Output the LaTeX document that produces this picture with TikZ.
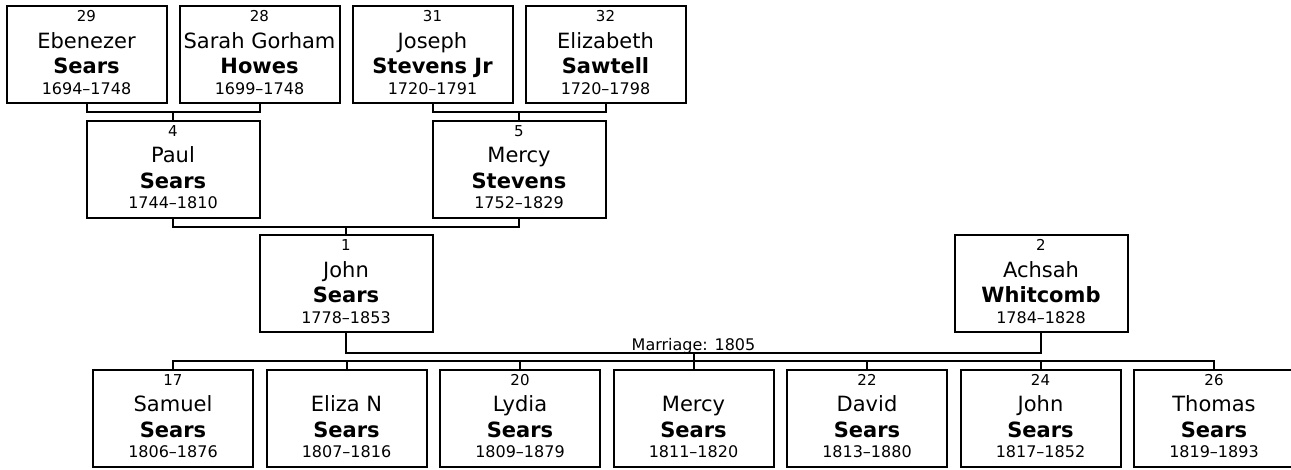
\documentclass[tikz,border=0pt]{standalone}
\usepackage{fontspec}
\setmainfont{DejaVu Sans}
\newcommand{\tline}[1]{\hbox to 0pt{\hss\smash{#1}\hss}}
\newcommand{\pinfo}[4]{\vbox to 97pt{\offinterlineskip
  \kern15.5pt\tline{\fontsize{15}{15}\selectfont #1}%
  \kern26.5pt\tline{\fontsize{21}{21}\selectfont #2}%
  \kern25.5pt\tline{\fontsize{21}{21}\selectfont\bfseries #3}%
  \kern20.5pt\tline{\fontsize{16}{16}\selectfont #4}\vss}}
\begin{document}
\begin{tikzpicture}[x=1pt,y=-1pt,
    pbox/.style={draw, line width=2pt, inner sep=0pt, outer sep=0pt,
      minimum width=160pt, minimum height=97pt},
    pwide/.style={pbox, minimum width=173pt},
    link/.style={line width=2pt}]
    \useasboundingbox (0,0) rectangle (1291,469);
    \def\x{173.5}
    % grandparents
    \node [pbox] (A0_0) at (86.5, 54.5) {\pinfo{29}{Ebenezer}{Sears}{1694--1748}};
    \node [pbox] (A0_1) at (259.5, 54.5) {\pinfo{28}{Sarah Gorham}{Howes}{1699--1748}};
    \node [pbox] (A0_2) at (432.5, 54.5) {\pinfo{31}{Joseph}{Stevens Jr}{1720--1791}};
    \node [pbox] (A0_3) at (605.5, 54.5) {\pinfo{32}{Elizabeth}{Sawtell}{1720--1798}};
    % parents
    \node [pwide] (A1_0) at (173, 169) {\pinfo{4}{Paul}{Sears}{1744--1810}};
    \node [pwide] (A1_1) at (519, 169) {\pinfo{5}{Mercy}{Stevens}{1752--1829}};
    % couple
    \node [pwide] (A2_0) at (346, 283.5) {\pinfo{1}{John}{Sears}{1778--1853}};
    \node [pwide] (A2_1) at (1041, 283.5) {\pinfo{2}{Achsah}{Whitcomb}{1784--1828}};
    % children
    \node [pbox] (A3_0) at (173+0*\x, 418) {\pinfo{17}{Samuel}{Sears}{1806--1876}};
    \node [pbox] (A3_1) at (173+1*\x, 418) {\pinfo{}{Eliza N}{Sears}{1807--1816}};
    \node [pbox] (A3_2) at (173+2*\x, 418) {\pinfo{20}{Lydia}{Sears}{1809--1879}};
    \node [pbox] (A3_3) at (173+3*\x, 418) {\pinfo{}{Mercy}{Sears}{1811--1820}};
    \node [pbox] (A3_4) at (173+4*\x, 418) {\pinfo{22}{David}{Sears}{1813--1880}};
    \node [pbox] (A3_5) at (173+5*\x, 418) {\pinfo{24}{John}{Sears}{1817--1852}};
    \node [pbox] (A3_6) at (173+6*\x, 418) {\pinfo{26}{Thomas}{Sears}{1819--1893}};
    % brackets
    \coordinate (J0) at ([yshift=8.5pt]A1_0.north);
    \coordinate (J1) at ([yshift=8.5pt]A1_1.north);
    \coordinate (J2) at ([yshift=8.5pt]A2_0.north);
    \draw [link] (A0_0.south) |- (J0) -| (A0_1.south);
    \draw [link] (J0) -- (A1_0.north);
    \draw [link] (A0_2.south) |- (J1) -| (A0_3.south);
    \draw [link] (J1) -- (A1_1.north);
    \draw [link] (A1_0.south) |- (J2) -| (A1_1.south);
    \draw [link] (J2) -- (A2_0.north);
    % marriage and children
    \coordinate (M) at (693.5, 352.5);
    \coordinate (K) at (693.5, 361);
    \draw [link] (A2_0.south) |- (M) -| (A2_1.south);
    \node [anchor=base, inner sep=0pt, font=\fontsize{16}{16}\selectfont] (M_lab) at ([yshift=2.5pt]M) {Marriage: 1805};
    \draw [link] (M) -- (K);
    \draw [link] (A3_0.north) |- (K) -| (A3_6.north);
    \foreach \i in {1,...,5}
      \draw [link] (A3_\i.north) -- (A3_\i.north |- K);
  \end{tikzpicture}
\end{document}
